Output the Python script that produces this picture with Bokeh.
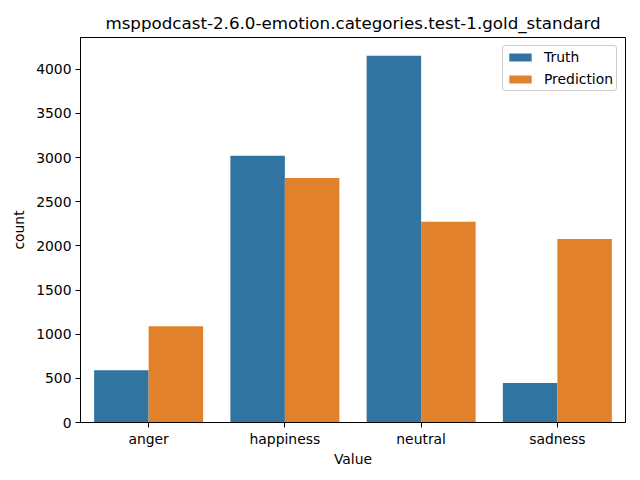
from bokeh.plotting import figure
from bokeh.models import ColumnDataSource, FactorRange, Legend, LegendItem, SingleIntervalTicker, Range1d
from bokeh.transform import dodge
from bokeh.embed import file_html
from bokeh.resources import INLINE

categories = ["anger", "happiness", "neutral", "sadness"]
truth = [592, 3020, 4151, 448]
prediction = [1090, 2768, 2272, 2077]

source = ColumnDataSource(dict(cat=categories, truth=truth, prediction=prediction))

FONT = "DejaVu Sans"
p = figure(
    x_range=FactorRange(*categories, range_padding=0),
    y_range=Range1d(0, max(truth + prediction) * 1.05),
    frame_width=545, frame_height=385,
    min_border_left=80, min_border_right=7, min_border_top=37, min_border_bottom=50,
    output_backend="svg", toolbar_location=None,
    title="msppodcast-2.6.0-emotion.categories.test-1.gold_standard",
)
p.title.text_font = FONT
p.title.text_font_size = "16.7px"
p.title.text_font_style = "normal"
p.title.align = "center"
p.title.text_color = "#000000"

r1 = p.vbar(x=dodge("cat", -0.2, range=p.x_range), top="truth", width=0.4, source=source,
            fill_color="#3274a1", line_color=None)
r2 = p.vbar(x=dodge("cat", 0.2, range=p.x_range), top="prediction", width=0.4, source=source,
            fill_color="#e1812c", line_color=None)

p.xgrid.visible = False
p.ygrid.visible = False
p.outline_line_color = "black"
p.outline_line_width = 1
p.yaxis.ticker = SingleIntervalTicker(interval=500)
for ax in (p.xaxis[0], p.yaxis[0]):
    ax.major_label_text_font = FONT
    ax.major_label_text_font_size = "13.9px"
    ax.major_label_text_color = "#000000"
    ax.axis_label_text_font = FONT
    ax.axis_label_text_font_size = "13.9px"
    ax.axis_label_text_font_style = "normal"
    ax.axis_label_text_color = "#000000"
    ax.major_tick_in = 0
    ax.major_tick_out = 5
    ax.minor_tick_in = 0
    ax.minor_tick_out = 0
    ax.axis_line_color = "black"
    ax.major_tick_line_color = "black"
p.xaxis.axis_label = "Value"
p.yaxis.axis_label = "count"
p.xaxis.major_label_standoff = 3
p.yaxis.major_label_standoff = 4
p.xaxis.axis_label_standoff = 1
p.yaxis.axis_label_standoff = 6

legend = Legend(items=[LegendItem(label="Truth", renderers=[r1]),
                       LegendItem(label="Prediction", renderers=[r2])],
                location="top_right")
legend.label_text_font = FONT
legend.label_text_font_size = "13.9px"
legend.label_text_color = "#000000"
legend.border_line_color = "#cccccc"
legend.border_line_alpha = 1
legend.border_radius = 3
legend.margin = 8
legend.padding = 3
legend.spacing = 6
legend.glyph_width = 28
legend.glyph_height = 10
legend.label_standoff = 10
p.add_layout(legend, "center")

open("out.html", "w").write(file_html(p, INLINE))
